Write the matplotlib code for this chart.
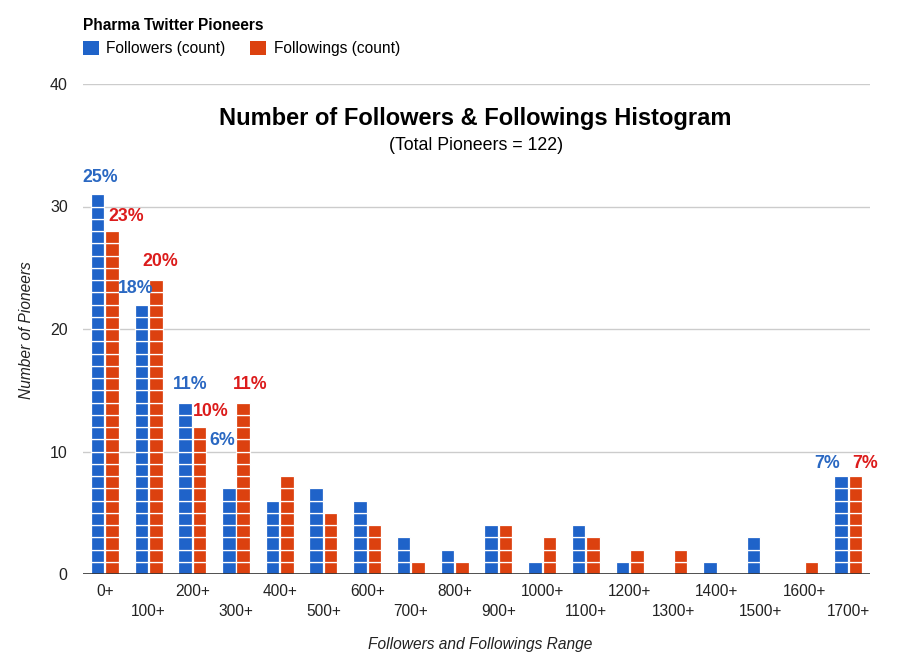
import matplotlib
matplotlib.use("Agg")
import matplotlib.pyplot as plt
from matplotlib.patches import Patch
import numpy as np

plt.rcParams['font.family'] = ['Liberation Sans', 'DejaVu Sans']

categories = ["0+", "100+", "200+", "300+", "400+", "500+", "600+", "700+", "800+",
              "900+", "1000+", "1100+", "1200+", "1300+", "1400+", "1500+", "1600+", "1700+"]
followers = [31, 22, 14, 7, 6, 7, 6, 3, 2, 4, 1, 4, 1, 0, 1, 3, 0, 8]
followings = [28, 24, 12, 14, 8, 5, 4, 1, 1, 4, 3, 3, 2, 2, 0, 0, 1, 8]

follower_pct_labels = ["25%", "18%", "11%", "6%", "7%"]
follower_pct_cats = [0, 1, 2, 3, 17]
following_pct_labels = ["23%", "20%", "10%", "11%", "7%"]
following_pct_cats = [0, 1, 2, 3, 17]

# label placement (offset from group centre, y in data units)
f_lab_pos = [(-0.11, 32.4), (-0.29, 23.3), (-0.05, 15.5), (-0.32, 10.9), (-0.48, 9.06)]
g_lab_pos = [(0.48, 29.2), (0.26, 25.5), (0.43, 13.3), (0.32, 15.5), (0.39, 9.06)]

BLUE = "#1f63c9"
ORANGE = "#dc410f"
BLUE_TXT = "#2a68c2"
RED_TXT = "#dc1c1c"

fig = plt.figure(figsize=(9, 6.65), dpi=100)
ax = fig.add_axes([83/900, 1-574/665, (870-83)/900, (574-84)/665])

x = np.arange(len(categories))
w = 0.31
off = 0.165

def draw_units(xpos, vals, color):
    vals = np.array(vals)
    for k in range(int(vals.max())):
        mask = vals > k
        ax.bar(xpos[mask], np.ones(mask.sum()), width=w, bottom=k, color=color,
               edgecolor="white", linewidth=0.9, zorder=3)

draw_units(x - off, followers, BLUE)
draw_units(x + off, followings, ORANGE)

ax.set_xlim(-0.5, len(categories) - 0.5)
ax.set_ylim(0, 40)
ax.set_yticks([0, 10, 20, 30, 40])
ax.yaxis.grid(True, color="#cccccc", linewidth=1, zorder=0)
ax.set_axisbelow(True)
for s in ax.spines.values():
    s.set_visible(False)
ax.axhline(0, color="#333333", linewidth=1.2, zorder=4)
ax.tick_params(axis="y", length=0, pad=11, labelsize=11.5, labelcolor="#222222")
ax.tick_params(axis="x", length=0, labelsize=11, labelcolor="#222222")
ax.set_xticks(x)
ax.set_xticklabels(["" for _ in categories])
for i, c in enumerate(categories):
    ax.annotate(c, xy=(i, 0), xycoords="data", xytext=(0, -18 if i % 2 == 0 else -38),
                textcoords="offset pixels",
                ha="center", va="center", fontsize=11.2, color="#222222")

fig.text(27/900, 1-330/665, "Number of Pioneers", fontsize=11.2, style="italic",
         color="#222222", rotation=90, ha="center", va="center")
fig.text(480/900, 1-645/665, "Followers and Followings Range", fontsize=11.2,
         style="italic", color="#222222", ha="center", va="center")

for lab, ci, (dx, yy) in zip(follower_pct_labels, follower_pct_cats, f_lab_pos):
    ax.text(ci + dx, yy, lab, color=BLUE_TXT, fontsize=12.8, fontweight="bold",
            ha="center", va="center", zorder=5)
for lab, ci, (dx, yy) in zip(following_pct_labels, following_pct_cats, g_lab_pos):
    ax.text(ci + dx, yy, lab, color=RED_TXT, fontsize=12.8, fontweight="bold",
            ha="center", va="center", zorder=5)

fig.text(475/900, 1-119/665, "Number of Followers & Followings Histogram",
         fontsize=17, fontweight="bold", ha="center", va="center", color="#000000")
fig.text(476/900, 1-145/665, "(Total Pioneers = 122)",
         fontsize=12.8, ha="center", va="center", color="#000000")

handles = [Patch(facecolor=BLUE, edgecolor="none", label="Followers (count)"),
           Patch(facecolor=ORANGE, edgecolor="none", label="Followings (count)")]
leg = fig.legend(handles=handles, loc="upper left", bbox_to_anchor=(69/900, 1-4/665),
                 ncol=2, frameon=False, title="Pharma Twitter Pioneers",
                 alignment="left", fontsize=11.2, handlelength=1.0, handleheight=1.0,
                 handletextpad=0.5, columnspacing=1.6,
                 title_fontproperties={"weight": "bold", "size": 11.2})

fig.savefig("out.png", dpi=100)
